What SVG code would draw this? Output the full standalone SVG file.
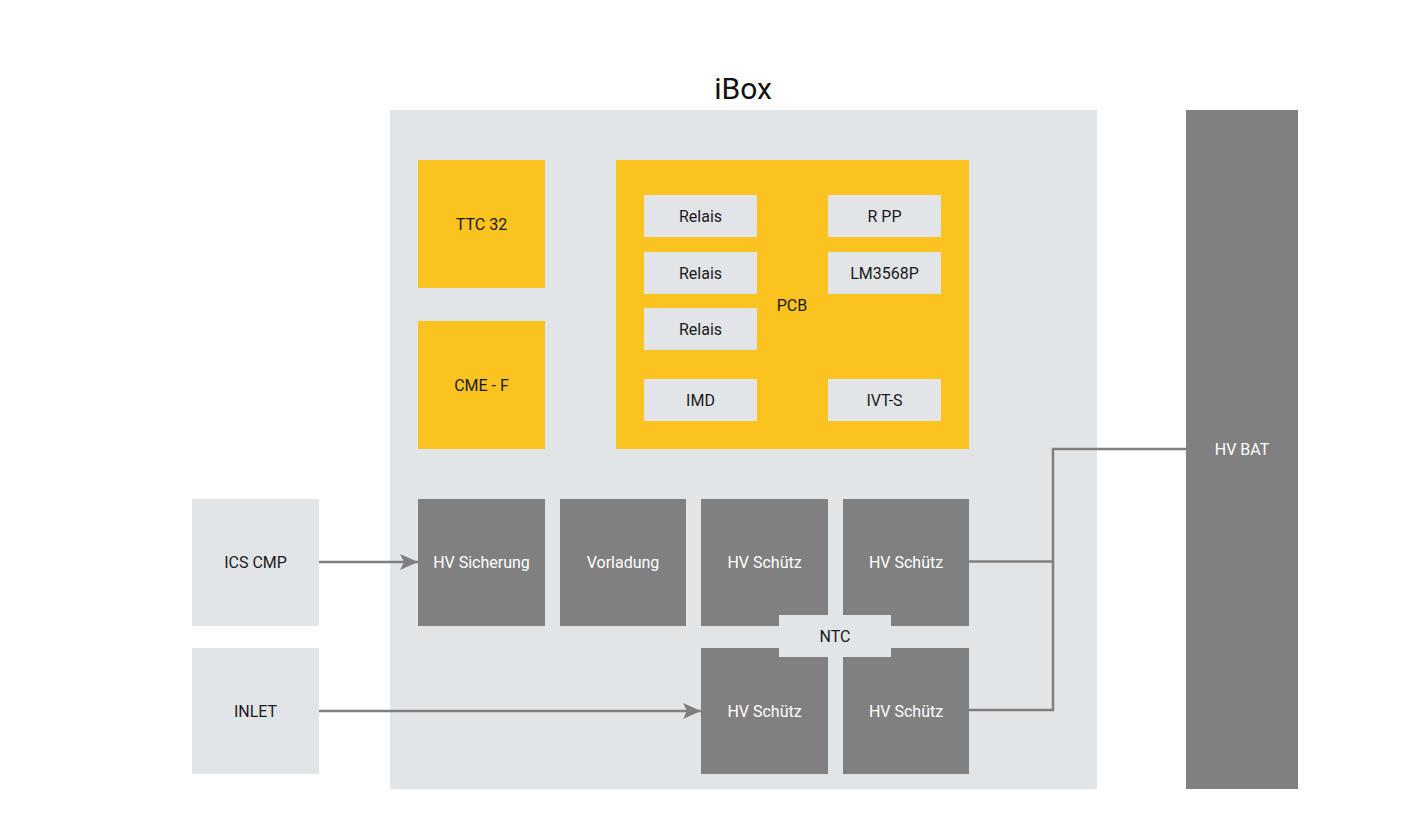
<svg xmlns="http://www.w3.org/2000/svg" width="1406" height="818" viewBox="0 0 1406 818">
  <style>
    .light { fill: #e2e5e8; }
    .yellow { fill: #fbc31f; }
    .dark { fill: #808080; }
    text { font-family: Roboto, "Liberation Sans", sans-serif; font-size: 16px; text-anchor: middle; dominant-baseline: central; }
    .tdark { fill: #1a1a1a; }
    .tlight { fill: #ffffff; }
    .title { font-size: 30px; fill: #111111; }
    .wire { fill: none; stroke: #7f7f7f; stroke-width: 2.5; }
  </style>
  <defs>
    <marker id="arrow" markerWidth="18" markerHeight="16" refX="18" refY="8" orient="auto" markerUnits="userSpaceOnUse" viewBox="0 0 18 16">
      <path d="M0,0 L18,8 L0,16 L4,8 Z" fill="#7f7f7f"/>
    </marker>
  </defs>
  <rect width="1406" height="818" fill="#ffffff"/>

  <!-- iBox enclosure -->
  <g id="ibox">
    <text class="title" x="743" y="88">iBox</text>
    <rect class="light" x="390" y="110" width="707" height="679"/>
  </g>

  <g id="ttc32">
    <rect class="yellow" x="418" y="160" width="127" height="128"/>
    <text class="tdark" x="481.5" y="224">TTC 32</text>
  </g>
  <g id="cmef">
    <rect class="yellow" x="418" y="321" width="127" height="128"/>
    <text class="tdark" x="481.5" y="385">CME - F</text>
  </g>

  <!-- PCB with its components -->
  <g id="pcb">
    <rect class="yellow" x="616" y="160" width="353" height="289"/>
    <text class="tdark" x="792" y="305">PCB</text>
  </g>
  <g id="relais1">
    <rect class="light" x="644" y="195" width="113" height="42"/>
    <text class="tdark" x="700.5" y="216">Relais</text>
  </g>
  <g id="relais2">
    <rect class="light" x="644" y="252" width="113" height="42"/>
    <text class="tdark" x="700.5" y="273">Relais</text>
  </g>
  <g id="relais3">
    <rect class="light" x="644" y="308" width="113" height="42"/>
    <text class="tdark" x="700.5" y="329">Relais</text>
  </g>
  <g id="imd">
    <rect class="light" x="644" y="379" width="113" height="42"/>
    <text class="tdark" x="700.5" y="400">IMD</text>
  </g>
  <g id="rpp">
    <rect class="light" x="828" y="195" width="113" height="42"/>
    <text class="tdark" x="884.5" y="216">R PP</text>
  </g>
  <g id="lm3568p">
    <rect class="light" x="828" y="252" width="113" height="42"/>
    <text class="tdark" x="884.5" y="273">LM3568P</text>
  </g>
  <g id="ivts">
    <rect class="light" x="828" y="379" width="113" height="42"/>
    <text class="tdark" x="884.5" y="400">IVT-S</text>
  </g>

  <!-- High-voltage path -->
  <g id="hv-sicherung">
    <rect class="dark" x="418" y="499" width="127" height="127"/>
    <text class="tlight" x="481.5" y="562">HV Sicherung</text>
  </g>
  <g id="vorladung">
    <rect class="dark" x="560" y="499" width="126" height="127"/>
    <text class="tlight" x="623" y="562">Vorladung</text>
  </g>
  <g id="hv-schuetz-1">
    <rect class="dark" x="701" y="499" width="127" height="127"/>
    <text class="tlight" x="764.5" y="562">HV Schütz</text>
  </g>
  <g id="hv-schuetz-2">
    <rect class="dark" x="843" y="499" width="126" height="127"/>
    <text class="tlight" x="906" y="562">HV Schütz</text>
  </g>
  <g id="hv-schuetz-3">
    <rect class="dark" x="701" y="648" width="127" height="126"/>
    <text class="tlight" x="764.5" y="711">HV Schütz</text>
  </g>
  <g id="hv-schuetz-4">
    <rect class="dark" x="843" y="648" width="126" height="126"/>
    <text class="tlight" x="906" y="711">HV Schütz</text>
  </g>
  <g id="ntc">
    <rect class="light" x="779" y="615" width="112" height="42"/>
    <text class="tdark" x="835" y="636">NTC</text>
  </g>

  <!-- External parts -->
  <g id="ics-cmp">
    <rect class="light" x="192" y="499" width="127" height="127"/>
    <text class="tdark" x="255.5" y="562">ICS CMP</text>
  </g>
  <g id="inlet">
    <rect class="light" x="192" y="648" width="127" height="126"/>
    <text class="tdark" x="255.5" y="711">INLET</text>
  </g>
  <g id="hv-bat">
    <rect class="dark" x="1186" y="110" width="112" height="679"/>
    <text class="tlight" x="1242" y="449">HV BAT</text>
  </g>

  <!-- Connectors -->
  <g id="connectors">
    <path class="wire" d="M319,562 H418" marker-end="url(#arrow)"/>
    <path class="wire" d="M319,711 H701" marker-end="url(#arrow)"/>
    <path class="wire" d="M969,561.5 H1053"/>
    <path class="wire" d="M969,710 H1053 V449 H1186"/>
  </g>
</svg>
